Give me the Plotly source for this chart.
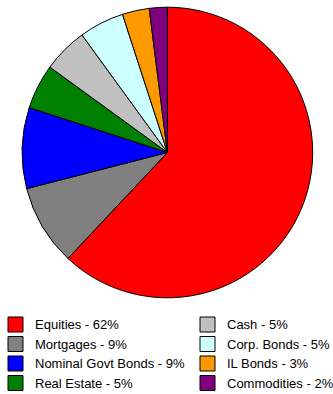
import plotly.graph_objects as go

labels = ["Equities", "Mortgages", "Nominal Govt Bonds", "Real Estate",
          "Cash", "Corp. Bonds", "IL Bonds", "Commodities"]
values = [62, 9, 9, 5, 5, 5, 3, 2]
colors = ["#FF0000", "#808080", "#0000FF", "#008000",
          "#C0C0C0", "#CCFFFF", "#FF9900", "#800080"]

W, H = 333, 394

fig = go.Figure()
fig.add_trace(go.Pie(
    labels=labels, values=values, sort=False, direction="clockwise",
    rotation=0, textinfo="none", hoverinfo="label+percent",
    marker=dict(colors=colors, line=dict(color="#000000", width=1)),
    domain=dict(x=[21.8 / W, 313 / W], y=[1 - 297.8 / H, 1 - 7.2 / H]),
    showlegend=False,
))

# manual two-column legend
shapes = []
annotations = []
col_x = [8, 200]
text_x = [33, 225]
row_y = [324.5, 344, 363.5, 383]
for i, (lab, val, col) in enumerate(zip(labels, values, colors)):
    c = i // 4
    r = i % 4
    x0 = col_x[c]
    yc = row_y[r]
    shapes.append(dict(type="rect", xref="paper", yref="paper",
                       x0=x0 / W, x1=(x0 + 15) / W,
                       y0=1 - (yc + 7.5) / H, y1=1 - (yc - 7.5) / H,
                       fillcolor=col, line=dict(color="#000000", width=1)))
    annotations.append(dict(xref="paper", yref="paper", x=text_x[c] / W,
                            y=1 - yc / H, xanchor="left", yanchor="middle",
                            text=f"{lab} - {val}%", showarrow=False,
                            font=dict(family="Liberation Sans, Arial", size=13, color="#000000")))

fig.update_layout(
    width=W, height=H, margin=dict(l=0, r=0, t=0, b=0),
    paper_bgcolor="white", plot_bgcolor="white",
    shapes=shapes, annotations=annotations,
)

fig.write_html("out.html")
